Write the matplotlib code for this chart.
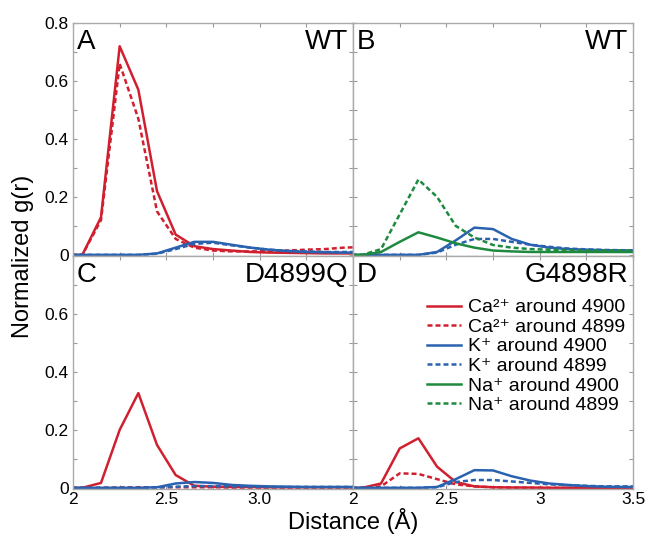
import matplotlib
matplotlib.use("Agg")
import matplotlib.pyplot as plt
from matplotlib.ticker import FixedLocator, FixedFormatter
from matplotlib.lines import Line2D

plt.rcParams['font.family'] = ['Liberation Sans', 'DejaVu Sans']

# distance grid (Å)
r = [1.95, 2.05, 2.15, 2.25, 2.35, 2.45, 2.55, 2.65, 2.75, 2.85, 2.95, 3.05, 3.15, 3.25, 3.35, 3.45, 3.55]

# Panel A (WT)
A_ca4900 = [0, 0, 0.13, 0.72, 0.57, 0.22, 0.07, 0.03, 0.02, 0.015, 0.01, 0.008, 0.007, 0.006, 0.005, 0.005, 0.005]
A_ca4899 = [0, 0, 0.12, 0.66, 0.47, 0.15, 0.055, 0.025, 0.015, 0.012, 0.012, 0.013, 0.015, 0.018, 0.02, 0.025, 0.027]
A_k4900 = [0, 0, 0, 0, 0, 0.005, 0.025, 0.045, 0.045, 0.035, 0.025, 0.018, 0.013, 0.01, 0.009, 0.008, 0.008]
A_k4899 = [0, 0, 0, 0, 0, 0.004, 0.02, 0.038, 0.042, 0.033, 0.025, 0.018, 0.014, 0.012, 0.01, 0.01, 0.01]

# Panel B (WT)
B_k4900 = [0, 0, 0, 0, 0, 0.01, 0.05, 0.094, 0.089, 0.055, 0.035, 0.025, 0.02, 0.018, 0.016, 0.015, 0.015]
B_k4899 = [0, 0, 0, 0, 0, 0.008, 0.035, 0.055, 0.055, 0.045, 0.035, 0.028, 0.022, 0.019, 0.017, 0.016, 0.016]
B_na4900 = [0, 0, 0.01, 0.045, 0.078, 0.06, 0.04, 0.025, 0.015, 0.012, 0.01, 0.01, 0.01, 0.01, 0.01, 0.01, 0.01]
B_na4899 = [0, 0, 0.02, 0.14, 0.26, 0.2, 0.1, 0.06, 0.034, 0.025, 0.02, 0.018, 0.016, 0.015, 0.015, 0.015, 0.015]

# Panel C (D4899Q)
C_ca4900 = [0, 0, 0.017, 0.2, 0.327, 0.148, 0.044, 0.007, 0.004, 0.003, 0.003, 0.002, 0.002, 0.002, 0.002, 0.002, 0.002]
C_ca4899 = [0, 0, 0, 0.001, 0.002, 0.002, 0.002, 0.002, 0.002, 0.001, 0.001, 0.001, 0.001, 0.001, 0.001, 0.001, 0.001]
C_k4900 = [0, 0, 0, 0, 0, 0.002, 0.015, 0.02, 0.017, 0.01, 0.007, 0.005, 0.004, 0.003, 0.003, 0.003, 0.003]
C_k4899 = [0, 0, 0, 0, 0, 0.001, 0.004, 0.006, 0.006, 0.005, 0.004, 0.003, 0.003, 0.003, 0.003, 0.003, 0.003]

# Panel D (G4898R)
D_ca4900 = [0, 0, 0.015, 0.136, 0.171, 0.073, 0.02, 0.005, 0.002, 0.001, 0.001, 0, 0, 0, 0, 0, 0]
D_ca4899 = [0, 0, 0.005, 0.05, 0.048, 0.03, 0.012, 0.005, 0.002, 0.001, 0, 0, 0, 0, 0, 0, 0]
D_k4900 = [0, 0, 0, 0, 0, 0.003, 0.03, 0.061, 0.06, 0.04, 0.025, 0.015, 0.01, 0.006, 0.004, 0.003, 0.003]
D_k4899 = [0, 0, 0, 0, 0, 0.002, 0.02, 0.027, 0.027, 0.022, 0.017, 0.012, 0.009, 0.007, 0.005, 0.005, 0.005]

legend_labels = ['Ca²⁺ around 4900', 'Ca²⁺ around 4899',
                 'K⁺ around 4900', 'K⁺ around 4899',
                 'Na⁺ around 4900', 'Na⁺ around 4899']
panel_letters = ['A', 'B', 'C', 'D']
panel_names = ['WT', 'WT', 'D4899Q', 'G4898R']

RED = '#d0202f'
BLUE = '#2a62b0'
GREEN = '#1f8a3f'
LW = 1.8
DASH = (0, (2.0, 1.2))

fig = plt.figure(figsize=(6.5, 5.37), dpi=100)
left, right, top, bottom = 0.1123, 0.974, 0.957, 0.0894
w = (right - left) / 2
h = (top - bottom) / 2
axA = fig.add_axes([left, bottom + h, w, h])
axB = fig.add_axes([left + w, bottom + h, w, h])
axC = fig.add_axes([left, bottom, w, h])
axD = fig.add_axes([left + w, bottom, w, h])

def series(ax, ca49, ca99, k49, k99, na49=None, na99=None):
    if ca49 is not None:
        ax.plot(r, ca49, color=RED, lw=LW, ls='-')
        ax.plot(r, ca99, color=RED, lw=LW, ls=DASH)
    ax.plot(r, k49, color=BLUE, lw=LW, ls='-')
    ax.plot(r, k99, color=BLUE, lw=LW, ls=DASH)
    if na49 is not None:
        ax.plot(r, na49, color=GREEN, lw=LW, ls='-')
        ax.plot(r, na99, color=GREEN, lw=LW, ls=DASH)

series(axA, A_ca4900, A_ca4899, A_k4900, A_k4899)
series(axB, None, None, B_k4900, B_k4899, B_na4900, B_na4899)
series(axC, C_ca4900, C_ca4899, C_k4900, C_k4899)
series(axD, D_ca4900, D_ca4899, D_k4900, D_k4899)

handles = [
    Line2D([], [], color=RED, lw=LW, ls='-'),
    Line2D([], [], color=RED, lw=LW, ls=DASH),
    Line2D([], [], color=BLUE, lw=LW, ls='-'),
    Line2D([], [], color=BLUE, lw=LW, ls=DASH),
    Line2D([], [], color=GREEN, lw=LW, ls='-'),
    Line2D([], [], color=GREEN, lw=LW, ls=DASH),
]
axD.legend(handles, legend_labels, loc='upper right', bbox_to_anchor=(1.02, 0.875),
           frameon=False, fontsize=14, handlelength=1.75, handletextpad=0.35,
           labelspacing=0.1, borderpad=0.2)

yt = [0, 0.1, 0.2, 0.3, 0.4, 0.5, 0.6, 0.7, 0.8]
xt = [2, 2.25, 2.5, 2.75, 3.0, 3.25, 3.5]
for ax in (axA, axB, axC, axD):
    ax.set_xlim(2, 3.5)
    ax.set_ylim(-0.004, 0.8)
    ax.xaxis.set_major_locator(FixedLocator(xt))
    ax.yaxis.set_major_locator(FixedLocator(yt))
    ax.tick_params(direction='in', length=3, width=0.8, color='#999999',
                   top=True, right=True, labelsize=12.5)
    ax.tick_params(axis='y', pad=3)
    ax.tick_params(axis='x', pad=2)
    for s in ax.spines.values():
        s.set_color('#aaaaaa')
        s.set_linewidth(1.0)

axA.yaxis.set_major_formatter(FixedFormatter(['0', '', '0.2', '', '0.4', '', '0.6', '', '0.8']))
axC.yaxis.set_major_formatter(FixedFormatter(['0', '', '0.2', '', '0.4', '', '0.6', '', '']))
axB.set_yticklabels([])
axD.set_yticklabels([])
axA.set_xticklabels([])
axB.set_xticklabels([])
axC.xaxis.set_major_formatter(FixedFormatter(['2', '', '2.5', '', '3.0', '', '']))
axD.xaxis.set_major_formatter(FixedFormatter(['2', '', '2.5', '', '3', '', '3.5']))

for ax, lab, name in zip((axA, axB, axC, axD), panel_letters, panel_names):
    ax.annotate(lab, xy=(0, 1), xycoords='axes fraction', xytext=(2.5, -4.5),
                textcoords='offset points', ha='left', va='top', fontsize=20)
    ax.annotate(name, xy=(1, 1), xycoords='axes fraction', xytext=(-3.5, -4),
                textcoords='offset points', ha='right', va='top', fontsize=20)

fig.text(0.036, (top + bottom) / 2, 'Normalized g(r)', rotation=90, ha='center', va='center', fontsize=17)
fig.text((left + right) / 2, 0.029, 'Distance (Å)', ha='center', va='center', fontsize=17)

fig.savefig('out.png', dpi=100)
